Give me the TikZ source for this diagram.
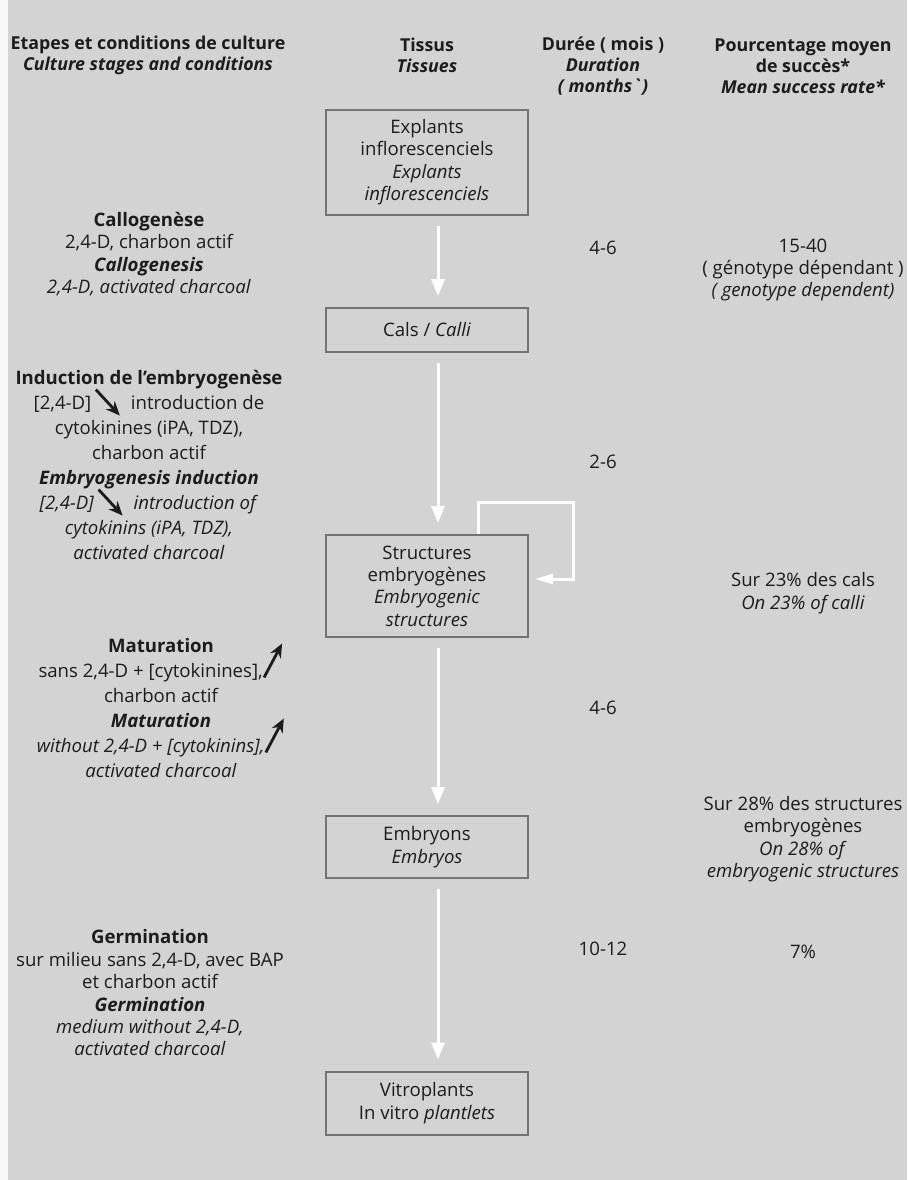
\documentclass[tikz,border=0pt]{standalone}
\usepackage{fontspec}
\setmainfont{Open Sans}
\usetikzlibrary{arrows.meta,positioning}

\definecolor{paper}{RGB}{211,211,211}
\definecolor{ink}{RGB}{28,28,28}
\definecolor{boxline}{RGB}{115,115,115}

% small black arrows inside the texts
\newcommand{\decr}{\smash{\tikz[baseline=0pt]\draw[ink,line width=1.4pt,-{Stealth[length=7pt,width=6pt]}] (0,10pt) -- (12pt,-3pt);}}
\newcommand{\incr}{\smash{\tikz[baseline=0pt]\draw[ink,line width=1.4pt,-{Stealth[length=7pt,width=6pt]}] (0,0) -- (9pt,17pt);}}

\begin{document}
\begin{tikzpicture}[x=0.5pt,y=-0.5pt,
  every node/.style={text=ink,inner sep=0pt,align=center,font=\fontsize{9.3}{11.2}\selectfont},
  head/.style={font=\bfseries\fontsize{8.9}{10.6}\selectfont},
  tall/.style={font=\fontsize{9.3}{12.5}\selectfont},
  tissue/.style={draw=boxline,line width=1pt,minimum width=101pt},
  flow/.style={draw=white,line width=1.5pt,-{Triangle[length=8.5pt,width=6.5pt]},shorten <=5pt,shorten >=5.5pt}]

% Paper
\fill[paper] (0,0) rectangle (907,1180);
\fill[white!85!paper] (0,0) rectangle (8,1180);
\useasboundingbox (0,0) rectangle (907,1180);

% Column heads
\node[head] (headstage) at (148,55) {Etapes et conditions de culture\\{\itshape Culture stages and conditions}};
\node[head] (headtissue) at (427,55) {Tissus\\{\itshape Tissues}};
\node[head] (headtime) at (603,66) {Durée ( mois )\\{\itshape Duration}\\{\itshape ( months\textasciigrave)}};
\node[head] (headrate) at (803,66) {Pourcentage moyen\\de succès*\\{\itshape Mean success rate*}};

% Culture stages
\node (callo) at (149,254) {\textbf{Callogenèse}\\2,4-D, charbon actif\\\textbf{\itshape Callogenesis}\\\textit{2,4-D, activated charcoal}};
\node[tall] (induc) at (149,465) {\textbf{Induction de l’embryogenèse}\\{}[2,4-D]\,\decr\ \ introduction de\\cytokinines (iPA, TDZ),\\charbon actif\\\textbf{\itshape Embryogenesis induction}\\\textit{[2,4-D]}\,\decr\ \ \textit{introduction of}\\\textit{cytokinins (iPA, TDZ),}\\\textit{activated charcoal}};
\node[tall] (matur) at (161,708) {\textbf{Maturation}\\sans 2,4-D + [cytokinines],\incr\\charbon actif\\\textbf{\itshape Maturation}\\\textit{without 2,4-D + [cytokinins],}\incr\\\textit{activated charcoal}};
\node (germ) at (150,993) {\textbf{Germination}\\sur milieu sans 2,4-D, avec BAP\\et charbon actif\\\textbf{\itshape Germination}\\\textit{medium without 2,4-D,}\\\textit{activated charcoal}};

% Tissues
\node[tissue,minimum height=52.5pt] (expl) at (427,162) {Explants\\inflorescenciels\\\textit{Explants}\\\textit{inflorescenciels}};
\node[tissue,minimum height=22pt] (cals) at (427,330) {Cals / \textit{Calli}};
\node[tissue,minimum height=51pt] (struct) at (427,586) {Structures\\embryogènes\\\textit{Embryogenic}\\\textit{structures}};
\node[tissue,minimum height=31pt] (embr) at (427,847) {Embryons\\\textit{Embryos}};
\node[tissue,minimum height=31.5pt] (vitro) at (427,1103) {Vitroplants\\In vitro \textit{plantlets}};

\foreach \a/\b in {expl/cals,cals/struct,struct/embr,embr/vitro}
  \draw[flow] ([xshift=5.5pt]\a.south) -- ([xshift=5.5pt]\b.north);
% loop back into the embryogenic structures
\draw[flow,-{Triangle[length=9pt,width=5pt]},shorten <=0pt,shorten >=3pt] ([xshift=25.5pt]struct.north) -- ++(0,16pt) -- ++(47.5pt,0) |- ([yshift=3.5pt]struct.east);

% Durations
\node (time1) at (603,248) {4-6};
\node (time2) at (603,462) {2-6};
\node (time3) at (603,708) {4-6};
\node (time4) at (603,949) {10-12};

% Success rates
\node (rate1) at (803,270) {15-40\\( génotype dépendant )\\\textit{( genotype dependent)}};
\node (rate2) at (803,593) {Sur 23\% des cals\\\textit{On 23\% of calli}};
\node (rate3) at (803,839) {Sur 28\% des structures\\embryogènes\\\textit{On 28\% of}\\\textit{embryogenic structures}};
\node (rate4) at (803,952) {7\%};
\end{tikzpicture}
\end{document}
